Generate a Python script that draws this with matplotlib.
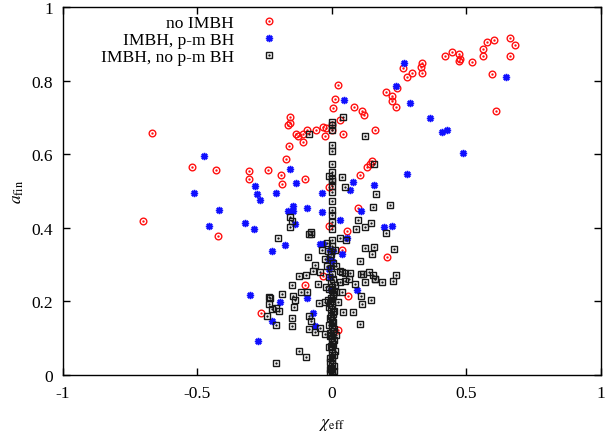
import matplotlib
matplotlib.use("Agg")
import matplotlib.pyplot as plt

plt.rcParams['font.family'] = ['Liberation Serif', 'DejaVu Serif']
plt.rcParams['mathtext.fontset'] = 'stix'

# chi_eff / a_fin for the three populations
no_imbh_x = [-0.704, -0.668, -0.519, -0.430, -0.422, -0.307, -0.309, -0.237, -0.190, -0.186,
             -0.171, -0.159, -0.156, -0.156, -0.162, -0.134, -0.124, -0.107, -0.107, -0.092,
             -0.101, -0.099, -0.265, 0.022, 0.012, 0.005, 0.083, 0.112, 0.118, 0.030,
             0.161, 0.040, -0.024, -0.032, -0.020, -0.059, 0.129, 0.141, 0.151, 0.103,
             -0.012, 0.098, -0.010, 0.058, 0.037, -0.032, 0.061, 0.024, 0.206, 0.265,
             0.278, 0.297, 0.330, 0.337, 0.337, 0.200, 0.223, 0.223, 0.238, 0.244,
             0.421, 0.447, 0.473, 0.476, 0.471, 0.522, 0.561, 0.563, 0.576, 0.603,
             0.594, 0.610, 0.664, 0.680, 0.662, 0.000, 0.000]
no_imbh_y = [0.418, 0.657, 0.565, 0.556, 0.377, 0.555, 0.533, 0.556, 0.543, 0.518,
             0.587, 0.623, 0.700, 0.684, 0.680, 0.656, 0.649, 0.656, 0.632, 0.665,
             0.532, 0.245, 0.168, 0.787, 0.750, 0.725, 0.727, 0.717, 0.707, 0.694,
             0.666, 0.655, 0.649, 0.673, 0.670, 0.667, 0.565, 0.573, 0.581, 0.543,
             0.512, 0.453, 0.406, 0.392, 0.340, 0.270, 0.214, 0.123, 0.321, 0.833,
             0.811, 0.821, 0.837, 0.849, 0.820, 0.768, 0.758, 0.745, 0.729, 0.779,
             0.868, 0.879, 0.872, 0.860, 0.853, 0.850, 0.885, 0.866, 0.905, 0.909,
             0.819, 0.718, 0.917, 0.898, 0.867, 0.678, 0.667]

pm_x = [-0.476, -0.514, -0.419, -0.455, -0.322, -0.291, -0.284, -0.280, -0.266, -0.206,
        -0.157, -0.134, -0.144, -0.164, -0.146, -0.094, -0.136, -0.174, -0.222, -0.306,
        0.046, 0.078, 0.156, -0.035, -0.035, 0.069, 0.107, 0.030, 0.057, -0.045,
        -0.032, -0.007, 0.036, -0.010, -0.012, -0.191, -0.221, -0.275, -0.094, -0.069,
        -0.063, -0.007, 0.092, 0.194, 0.223, 0.269, 0.237, 0.290, 0.366, 0.408,
        0.428, 0.649, 0.486, 0.281, 0.000, 0.003, -0.003]
pm_y = [0.594, 0.495, 0.449, 0.404, 0.414, 0.396, 0.514, 0.492, 0.476, 0.495,
        0.561, 0.522, 0.458, 0.446, 0.446, 0.454, 0.410, 0.354, 0.337, 0.217,
        0.747, 0.524, 0.515, 0.494, 0.442, 0.504, 0.445, 0.421, 0.373, 0.356,
        0.356, 0.339, 0.329, 0.315, 0.288, 0.198, 0.146, 0.093, 0.208, 0.168,
        0.134, 0.265, 0.232, 0.401, 0.406, 0.849, 0.784, 0.740, 0.699, 0.660,
        0.667, 0.811, 0.603, 0.545, 0.311, 0.338, 0.230]

nopm_x = [-0.156, -0.150, -0.156, -0.200, -0.084, -0.090, -0.122, -0.097, -0.149, -0.187,
          -0.144, -0.113, -0.094, -0.233, 0.042, -0.084, 0.125, 0.036, 0.155, 0.048,
          0.166, 0.154, 0.098, 0.089, 0.123, 0.144, -0.078, -0.076, -0.017, 0.030,
          0.052, -0.035, -0.014, 0.011, 0.125, 0.157, 0.151, 0.104, -0.026, -0.007,
          -0.017, -0.063, -0.069, -0.045, 0.030, 0.015, 0.048, 0.067, 0.110, 0.139,
          0.154, -0.230, -0.233, -0.224, -0.206, -0.196, -0.240, -0.206, -0.138, -0.140,
          -0.150, -0.150, -0.122, -0.097, -0.209, -0.084, -0.076, -0.084, -0.063, -0.045,
          -0.026, 0.017, -0.047, -0.026, 0.024, 0.036, 0.042, 0.079, 0.104, 0.107,
          0.114, 0.144, 0.117, 0.160, 0.123, 0.086, 0.048, 0.064, -0.051, -0.020,
          0.030, 0.036, 0.216, 0.200, 0.232, 0.162, 0.188, 0.237, 0.228, -0.012,
          # vertical stack at chi_eff ~ 0
          0.000, 0.000, 0.000, 0.000, 0.000, 0.000, 0.000, 0.000, 0.000, 0.000,
          0.000, 0.000, 0.000, 0.000, 0.000, 0.000, 0.000, 0.002, -0.003, 0.003,
          -0.002, 0.000, 0.004, -0.004, 0.001, -0.001, 0.003, -0.003, 0.000, 0.002,
          -0.002, 0.004, -0.004, 0.000, 0.001, -0.001, 0.003, -0.003, 0.000, 0.002,
          -0.002, 0.000, 0.001, -0.001, 0.000, 0.002, -0.002, 0.000, 0.001, -0.001,
          -0.008, 0.006, -0.010, 0.009, -0.012, 0.010, -0.006, 0.007,
          -0.007, 0.007, -0.006, 0.008, -0.009, 0.006, -0.005, 0.009, -0.008, 0.005,
          -0.006, 0.007, -0.009, 0.008, -0.007, 0.006, -0.012, 0.012, -0.015, 0.014]
nopm_y = [0.430, 0.419, 0.401, 0.371, 0.384, 0.320, 0.270, 0.273, 0.245, 0.220,
          0.216, 0.226, 0.226, 0.211, 0.700, 0.656, 0.649, 0.537, 0.572, 0.510,
          0.492, 0.456, 0.421, 0.397, 0.401, 0.412, 0.388, 0.383, 0.360, 0.372,
          0.368, 0.340, 0.338, 0.340, 0.344, 0.349, 0.329, 0.311, 0.315, 0.320,
          0.295, 0.299, 0.283, 0.279, 0.283, 0.295, 0.276, 0.276, 0.274, 0.279,
          0.272, 0.209, 0.193, 0.179, 0.181, 0.175, 0.161, 0.136, 0.204, 0.186,
          0.154, 0.134, 0.066, 0.048, 0.033, 0.161, 0.146, 0.125, 0.116, 0.127,
          0.111, 0.110, 0.195, 0.199, 0.199, 0.226, 0.170, 0.172, 0.139, 0.216,
          0.193, 0.205, 0.274, 0.261, 0.252, 0.247, 0.256, 0.261, 0.247, 0.238,
          0.252, 0.279, 0.462, 0.386, 0.343, 0.261, 0.254, 0.272, 0.255, 0.540,
          0.687, 0.678, 0.667, 0.625, 0.608, 0.572, 0.552, 0.533, 0.514, 0.528,
          0.498, 0.474, 0.449, 0.435, 0.415, 0.397, 0.368, 0.350, 0.330, 0.305,
          0.290, 0.275, 0.262, 0.250, 0.240, 0.230, 0.220, 0.210, 0.200, 0.190,
          0.180, 0.170, 0.160, 0.150, 0.140, 0.130, 0.120, 0.110, 0.100, 0.090,
          0.080, 0.070, 0.060, 0.050, 0.040, 0.030, 0.020, 0.012, 0.006, 0.000,
          0.105, 0.145, 0.185, 0.225, 0.265, 0.065, 0.035, 0.095,
          0.015, 0.025, 0.045, 0.055, 0.075, 0.085, 0.115, 0.125, 0.155, 0.165,
          0.005, 0.010, 0.135, 0.175, 0.195, 0.215, 0.235, 0.245, 0.205, 0.225]

legend_labels = ["no IMBH", "IMBH, p-m BH", "IMBH, no p-m BH"]

fig = plt.figure(figsize=(6.05, 4.39), dpi=100)
ax = fig.add_axes([0.104, 0.1435, 0.889, 0.8383])

red = '#ff1010'
blue = '#1010ff'
dark = '#181818'

circ = dict(ls='none', marker='o', ms=4.8, mfc='none', mec=red, mew=1.0)
circ_dot = dict(ls='none', marker='.', ms=1.4, color=red)
star = dict(ls='none', marker=(8, 2, 0), ms=5.2, mec=blue, mew=1.1)
sq = dict(ls='none', marker='s', ms=4.4, mfc='none', mec=dark, mew=1.0)
sq_dot = dict(ls='none', marker='.', ms=1.4, color=dark)

# open symbols with a centre dot, gnuplot style
ax.plot(no_imbh_x, no_imbh_y, **circ)
ax.plot(no_imbh_x, no_imbh_y, **circ_dot)
ax.plot(pm_x, pm_y, **star)
ax.plot(nopm_x, nopm_y, **sq)
ax.plot(nopm_x, nopm_y, **sq_dot)

# legend handles (empty data, only for the key)
h1 = (ax.plot([], [], **circ)[0], ax.plot([], [], **circ_dot)[0])
h2 = ax.plot([], [], **star)[0]
h3 = (ax.plot([], [], **sq)[0], ax.plot([], [], **sq_dot)[0])
ax.legend([h1, h2, h3], legend_labels, loc='upper left', bbox_to_anchor=(0.048, 1.012),
          frameon=False, markerfirst=False, fontsize=12.6, handlelength=2,
          handletextpad=1.0, labelspacing=0.05, borderaxespad=0.3)

ax.set_xlim(-1, 1)
ax.set_ylim(0, 1)
ax.set_xticks([-1, -0.5, 0, 0.5, 1])
ax.set_xticklabels(['-1', '-0.5', '0', '0.5', '1'])
ax.set_yticks([0, 0.2, 0.4, 0.6, 0.8, 1])
ax.set_yticklabels(['0', '0.2', '0.4', '0.6', '0.8', '1'])
ax.tick_params(direction='in', length=5, width=1, top=True, right=True,
               labelsize=12.5, pad=7)
for s in ax.spines.values():
    s.set_linewidth(1.0)

ax.set_xlabel(r'$\chi_{\rm eff}$', fontsize=12.5, labelpad=11)
ax.set_ylabel(r'$a_{\rm fin}$', fontsize=12.5, labelpad=4)

fig.savefig('out.png', dpi=100)
